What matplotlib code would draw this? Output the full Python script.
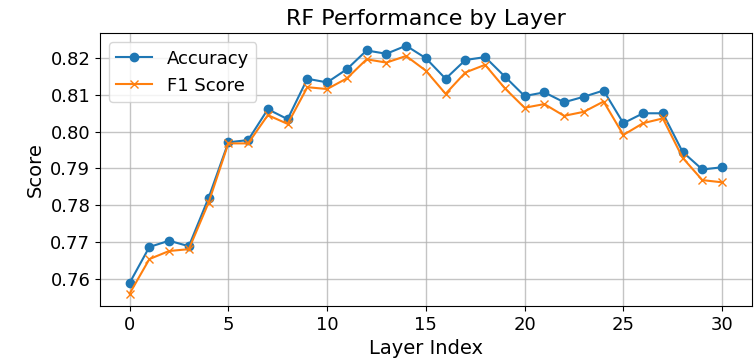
import matplotlib
matplotlib.use("Agg")
import matplotlib.pyplot as plt
from matplotlib.ticker import MultipleLocator

layers = list(range(31))
accuracy = [0.7588, 0.7686, 0.7703, 0.7688, 0.7820, 0.7971, 0.7977, 0.8061, 0.8034, 0.8144,
            0.8134, 0.8170, 0.8221, 0.8212, 0.8234, 0.8200, 0.8144, 0.8195, 0.8203, 0.8150,
            0.8097, 0.8107, 0.8080, 0.8095, 0.8112, 0.8023, 0.8050, 0.8050, 0.7945, 0.7897,
            0.7903]
f1_score = [0.7559, 0.7653, 0.7675, 0.7680, 0.7807, 0.7968, 0.7968, 0.8045, 0.8021, 0.8121,
            0.8116, 0.8145, 0.8197, 0.8188, 0.8206, 0.8166, 0.8103, 0.8161, 0.8182, 0.8118,
            0.8065, 0.8075, 0.8043, 0.8054, 0.8082, 0.7991, 0.8023, 0.8036, 0.7929, 0.7868,
            0.7862]

dpi = 100
fig = plt.figure(figsize=(755 / dpi, 363 / dpi), dpi=dpi)
ax = fig.add_axes([100 / 755, 1 - 306 / 363, 651.7 / 755, (306 - 33.3) / 363])

ax.plot(layers, accuracy, marker="o", label="Accuracy")
ax.plot(layers, f1_score, marker="x", label="F1 Score")

ax.yaxis.set_major_locator(MultipleLocator(0.01))
ax.tick_params(labelsize=13)
ax.set_title("RF Performance by Layer", fontsize=16)
ax.set_xlabel("Layer Index", fontsize=14)
ax.set_ylabel("Score", fontsize=14)
ax.grid(True, alpha=0.75, linewidth=1.0)
ax.legend(loc="upper left", fontsize=13)

fig.savefig("out.png", dpi=dpi)
